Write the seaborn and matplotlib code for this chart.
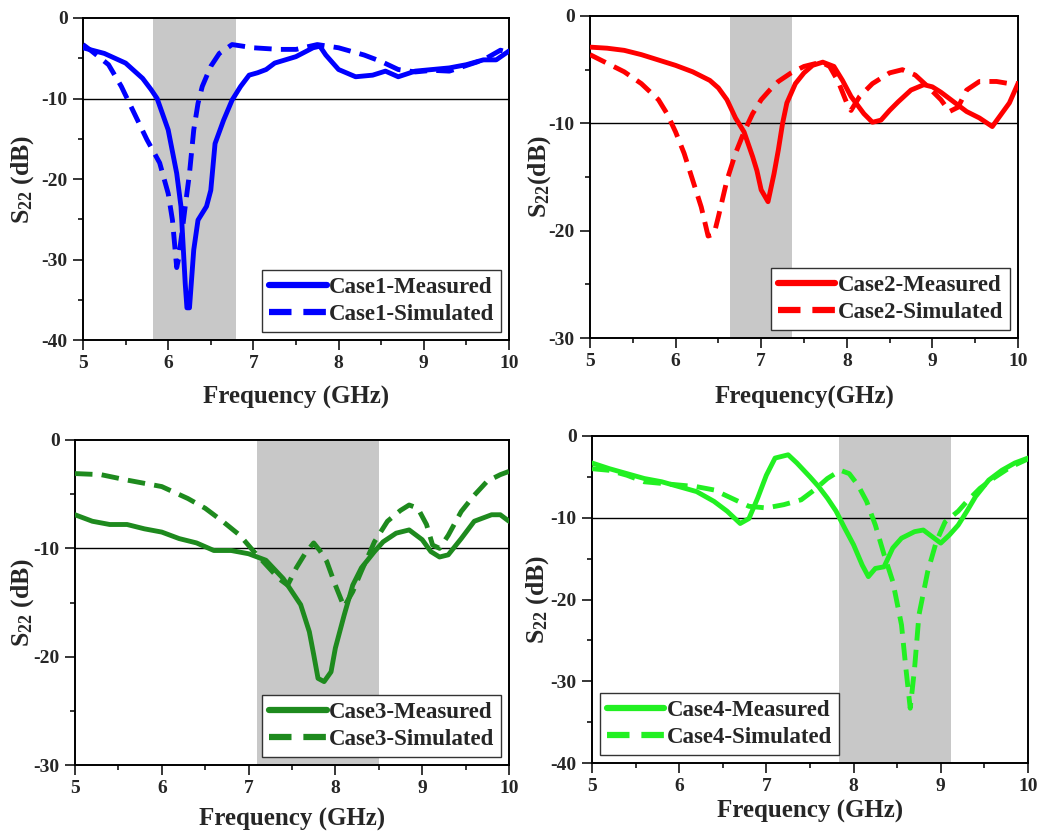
import numpy as np
import pandas as pd
import matplotlib
matplotlib.use("Agg")
import matplotlib.pyplot as plt
from matplotlib.lines import Line2D
from matplotlib.ticker import MultipleLocator
import seaborn as sns

# ---------------- data ----------------
# Case 1
c1_meas_f = [5.0, 5.25, 5.5, 5.7, 5.8, 5.87, 6.0, 6.1, 6.15, 6.2, 6.22, 6.25, 6.3, 6.35, 6.45, 6.5,
             6.55, 6.65, 6.75, 6.85, 6.95, 7.05, 7.15, 7.25, 7.5, 7.7, 7.78, 7.85, 8.0, 8.2, 8.4,
             8.55, 8.7, 8.9, 9.1, 9.3, 9.5, 9.7, 9.85, 10.0]
c1_meas_s = [-3.7, -4.4, -5.6, -7.5, -8.9, -10.0, -13.9, -19.3, -23.4, -33.0, -36.0, -36.0, -28.8, -25.1,
             -23.4, -21.4, -15.6, -12.7, -10.2, -8.5, -7.1, -6.8, -6.4, -5.6, -4.8, -3.7, -3.5, -4.6,
             -6.4, -7.3, -7.1, -6.6, -7.3, -6.6, -6.4, -6.2, -5.8, -5.2, -5.2, -4.1]
c1_sim_f = [5.0, 5.1, 5.3, 5.45, 5.6, 5.75, 5.9, 6.0, 6.05, 6.1, 6.12, 6.16, 6.2, 6.25, 6.3, 6.35,
            6.4, 6.5, 6.6, 6.75, 7.0, 7.3, 7.5, 7.75, 8.0, 8.3, 8.5, 8.7, 8.9, 9.1, 9.3, 9.5, 9.7,
            9.9, 10.0]
c1_sim_s = [-3.3, -4.1, -5.8, -8.5, -11.8, -15.1, -18.0, -21.8, -25.1, -31.0, -30.0, -26.8, -23.4,
            -19.3, -13.9, -10.6, -8.5, -6.0, -4.4, -3.3, -3.7, -3.9, -3.9, -3.3, -3.7, -4.6, -5.4,
            -6.4, -6.7, -6.5, -6.6, -5.9, -5.2, -4.0, -4.3]

# Case 2
c2_meas_f = [5.0, 5.2, 5.4, 5.6, 5.8, 6.0, 6.2, 6.4, 6.5, 6.6, 6.7, 6.8, 6.9, 6.95, 7.0, 7.08, 7.15,
             7.2, 7.25, 7.3, 7.4, 7.5, 7.6, 7.72, 7.85, 7.95, 8.05, 8.2, 8.3, 8.4, 8.5, 8.6, 8.75,
             8.9, 9.0, 9.1, 9.25, 9.4, 9.55, 9.7, 9.8, 9.9, 10.0]
c2_meas_s = [-2.9, -3.0, -3.2, -3.6, -4.1, -4.6, -5.2, -6.0, -6.7, -7.8, -9.5, -10.8, -13.1, -14.4,
             -16.2, -17.3, -14.7, -12.5, -10.0, -8.1, -6.3, -5.3, -4.6, -4.3, -4.7, -6.0, -7.5, -9.1,
             -9.9, -9.7, -8.8, -8.0, -6.9, -6.4, -6.6, -7.1, -8.0, -8.9, -9.5, -10.3, -9.2, -8.1,
             -6.3]
c2_sim_f = [5.0, 5.2, 5.4, 5.6, 5.8, 5.9, 6.0, 6.1, 6.2, 6.3, 6.38, 6.45, 6.5, 6.6, 6.7, 6.8, 6.9,
            7.0, 7.1, 7.2, 7.35, 7.5, 7.7, 7.8, 7.9, 8.0, 8.05, 8.15, 8.3, 8.5, 8.65, 8.8, 8.95,
            9.1, 9.2, 9.3, 9.4, 9.55, 9.75, 9.9, 10.0]
c2_sim_s = [-3.6, -4.4, -5.2, -6.3, -7.8, -9.1, -10.8, -12.8, -15.3, -17.8, -20.5, -20.3, -18.7,
            -15.3, -12.8, -10.8, -9.1, -7.8, -6.9, -6.1, -5.3, -4.7, -4.3, -4.7, -6.1, -8.1, -8.8,
            -7.5, -6.3, -5.3, -5.0, -5.5, -6.6, -7.8, -8.9, -8.5, -6.9, -6.1, -6.1, -6.3, -6.3]

# Case 3
c3_meas_f = [5.0, 5.2, 5.4, 5.6, 5.8, 6.0, 6.2, 6.4, 6.6, 6.8, 7.0, 7.2, 7.4, 7.6, 7.7, 7.75, 7.8,
             7.87, 7.95, 8.0, 8.1, 8.2, 8.3, 8.45, 8.55, 8.7, 8.85, 9.0, 9.1, 9.2, 9.3, 9.45, 9.6,
             9.8, 9.9, 10.0]
c3_meas_s = [-6.9, -7.5, -7.8, -7.8, -8.2, -8.5, -9.1, -9.5, -10.2, -10.2, -10.5, -11.1, -12.8,
             -15.2, -17.7, -19.8, -22.0, -22.3, -21.4, -19.2, -16.2, -13.4, -11.8, -10.3, -9.4, -8.6,
             -8.3, -9.2, -10.3, -10.8, -10.6, -9.1, -7.5, -6.9, -6.9, -7.5]
c3_sim_f = [5.0, 5.3, 5.6, 6.0, 6.3, 6.5, 6.7, 6.9, 7.05, 7.2, 7.35, 7.45, 7.55, 7.65, 7.75, 7.82,
            7.9, 8.0, 8.1, 8.2, 8.3, 8.45, 8.6, 8.75, 8.85, 8.95, 9.05, 9.12, 9.2, 9.3, 9.45, 9.6,
            9.75, 9.9, 10.0]
c3_sim_s = [-3.1, -3.2, -3.7, -4.3, -5.4, -6.3, -7.5, -8.8, -10.2, -11.5, -12.8, -13.4, -11.8,
            -10.5, -9.5, -10.2, -11.2, -13.4, -15.4, -14.0, -12.1, -9.4, -7.5, -6.5, -6.0, -6.3,
            -7.8, -9.7, -10.0, -8.8, -6.6, -5.1, -3.8, -3.2, -2.9]

# Case 4
c4_meas_f = [5.0, 5.2, 5.4, 5.6, 5.8, 6.0, 6.2, 6.4, 6.55, 6.7, 6.8, 6.9, 7.0, 7.1, 7.25, 7.35,
             7.5, 7.6, 7.7, 7.8, 7.9, 8.0, 8.1, 8.17, 8.25, 8.35, 8.45, 8.55, 8.7, 8.8, 8.9, 9.0,
             9.1, 9.2, 9.3, 9.4, 9.55, 9.7, 9.85, 10.0]
c4_meas_s = [-3.3, -4.0, -4.6, -5.2, -5.6, -6.2, -6.8, -8.0, -9.2, -10.7, -10.1, -7.6, -4.8, -2.7,
             -2.3, -3.3, -5.0, -6.2, -7.6, -9.2, -11.3, -13.3, -15.8, -17.2, -16.2, -16.0, -13.7,
             -12.5, -11.7, -11.5, -12.3, -13.1, -12.1, -10.9, -9.2, -7.4, -5.4, -4.2, -3.3, -2.7]
c4_sim_f = [5.0, 5.2, 5.4, 5.6, 5.8, 6.0, 6.2, 6.4, 6.6, 6.8, 7.0, 7.2, 7.4, 7.55, 7.7, 7.85, 7.95,
            8.05, 8.15, 8.25, 8.35, 8.45, 8.55, 8.6, 8.65, 8.7, 8.75, 8.85, 8.95, 9.05, 9.2, 9.3,
            9.45, 9.6, 9.8, 10.0]
c4_sim_s = [-4.0, -4.2, -4.8, -5.6, -5.8, -6.0, -6.2, -6.6, -7.6, -8.6, -8.8, -8.4, -7.8, -6.6,
            -5.2, -4.2, -4.6, -6.0, -8.0, -10.9, -14.5, -17.8, -23.1, -28.4, -33.3, -28.4, -21.9,
            -16.6, -12.9, -10.5, -9.2, -8.0, -6.4, -5.2, -3.8, -2.8]

case_names = ["Case1", "Case2", "Case3", "Case4"]
case_colors = ["#0000FF", "#FF0000", "#1E8A1E", "#22F022"]
bands = [(5.82, 6.80), (6.64, 7.36), (7.10, 8.50), (7.83, 9.12)]
ylims = [(-40, 0), (-30, 0), (-30, 0), (-40, 0)]
xlabels = ["Frequency (GHz)", "Frequency(GHz)", "Frequency (GHz)", "Frequency (GHz)"]
ylabels = ["S$_{22}$ (dB)", "S$_{22}$(dB)", "S$_{22}$ (dB)", "S$_{22}$ (dB)"]
legend_locs = ["lower right", "lower right", "lower right", "lower left"]
measured = [(c1_meas_f, c1_meas_s), (c2_meas_f, c2_meas_s), (c3_meas_f, c3_meas_s), (c4_meas_f, c4_meas_s)]
simulated = [(c1_sim_f, c1_sim_s), (c2_sim_f, c2_sim_s), (c3_sim_f, c3_sim_s), (c4_sim_f, c4_sim_s)]

# ---------------- style ----------------
sns.set_theme(style="ticks")
plt.rcParams.update({
    "font.family": ["Liberation Serif", "DejaVu Serif"],
    "font.weight": "bold",
    "axes.labelweight": "bold",
    "axes.unicode_minus": False,
    "mathtext.fontset": "custom",
    "mathtext.rm": "Liberation Serif",
    "mathtext.it": "Liberation Serif:italic",
    "mathtext.bf": "Liberation Serif:bold",
    "mathtext.default": "rm",
})

fig = plt.figure(figsize=(10.4, 8.33), dpi=100)
positions = [
    [0.0798, 0.5918, 0.4096, 0.3866],
    [0.5673, 0.5942, 0.4115, 0.3866],
    [0.0721, 0.0816, 0.4173, 0.3902],
    [0.5692, 0.0840, 0.4192, 0.3926],
]
ylabel_x = [-0.110, -0.086, -0.090, -0.094]
xlabel_pad = [10.0, 11.5, 7.3, 3.0]

LW = 3.5
DASH = (3.6, 1.9)

for i in range(4):
    ax = fig.add_axes(positions[i])
    name = case_names[i]
    mf, ms = measured[i]
    sf, ss = simulated[i]
    df = pd.concat([
        pd.DataFrame({"freq": mf, "s22": ms, "series": f"{name}-Measured"}),
        pd.DataFrame({"freq": sf, "s22": ss, "series": f"{name}-Simulated"}),
    ], ignore_index=True)

    ax.axvspan(*bands[i], color="#C8C8C8", lw=0, zorder=0)
    ax.axhline(-10, color="black", lw=1.0, zorder=1)

    sns.lineplot(data=df, x="freq", y="s22", hue="series", style="series",
                 palette=[case_colors[i], case_colors[i]],
                 dashes=["", DASH], estimator=None, sort=True,
                 lw=LW, legend=False, ax=ax, zorder=3)

    ax.set_xlim(5, 10)
    ax.set_ylim(*ylims[i])
    ax.xaxis.set_major_locator(MultipleLocator(1))
    ax.xaxis.set_minor_locator(MultipleLocator(0.5))
    ax.yaxis.set_major_locator(MultipleLocator(10))
    ax.yaxis.set_minor_locator(MultipleLocator(5))
    ax.tick_params(which="major", direction="out", length=7, width=1.3, pad=4,
                   top=False, right=False, labelsize=14)
    ax.tick_params(which="minor", direction="out", length=3.8, width=1.3,
                   top=False, right=False)
    for lab in ax.get_xticklabels() + ax.get_yticklabels():
        lab.set_fontweight("bold")
    for sp in ax.spines.values():
        sp.set_visible(True)
        sp.set_linewidth(1.4)
        sp.set_color("black")

    ax.set_xlabel(xlabels[i], fontsize=18, fontweight="bold", labelpad=xlabel_pad[i])
    ax.set_ylabel(ylabels[i], fontsize=18.5, fontweight="bold")
    ax.yaxis.set_label_coords(ylabel_x[i], 0.5)

    handles = [
        Line2D([], [], color=case_colors[i], lw=LW + 1.0, ls="-"),
        Line2D([], [], color=case_colors[i], lw=LW + 1.0, ls=(0, DASH)),
    ]
    leg = ax.legend(handles, [f"{name}-Measured", f"{name}-Simulated"],
                    loc=legend_locs[i], frameon=True, fancybox=False,
                    edgecolor="#333333", framealpha=1, handlelength=2.5,
                    handletextpad=0.1, borderpad=0.3, labelspacing=0.25,
                    borderaxespad=0.35, prop={"weight": "bold", "size": 16.5})
    leg.get_frame().set_linewidth(1.0)

fig.savefig("out.png", dpi=100)
